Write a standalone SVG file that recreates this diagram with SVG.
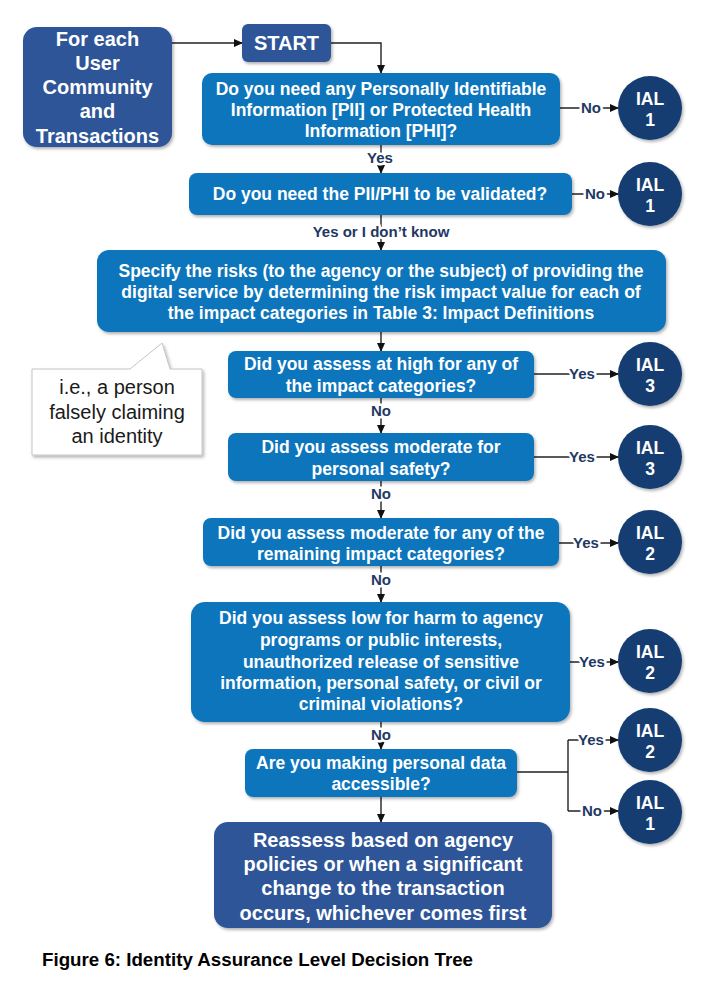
<svg xmlns="http://www.w3.org/2000/svg" width="719" height="981" viewBox="0 0 719 981">
<defs>
<style>
.dark{fill:#2F5597;}
.q{fill:#0E74BC;}
.ial{fill:#123D72;}
.t{font-family:"Liberation Sans",Arial,sans-serif;font-weight:bold;fill:#fff;text-anchor:middle;}
.t17{font-size:17.5px;}
.t20{font-size:20px;}
.lbl{font-family:"Liberation Sans",Arial,sans-serif;font-weight:bold;font-size:15px;fill:#1F3864;text-anchor:middle;stroke:#fff;stroke-width:5px;paint-order:stroke;stroke-linejoin:round;}
.ln{fill:none;stroke:#222;stroke-width:1.4;}
.ar{marker-end:url(#arr);}
.note{font-family:"Liberation Sans",Arial,sans-serif;font-size:20px;fill:#1a1a1a;text-anchor:middle;}
</style>
<marker id="arr" markerWidth="9" markerHeight="8" refX="8" refY="4" orient="auto" markerUnits="userSpaceOnUse">
<path d="M0,0 L9,4 L0,8 Z" fill="#111"/>
</marker>
<filter id="sh" x="-10%" y="-10%" width="130%" height="130%">
<feDropShadow dx="1.5" dy="2" stdDeviation="1.5" flood-color="#000" flood-opacity="0.3"/>
</filter>
</defs>
<rect width="719" height="981" fill="#fff"/>

<g id="connectors">
<path class="ln ar" d="M172,43 H242"/>
<path class="ln ar" d="M331,43 H381 V73"/>
<path class="ln ar" d="M381,145 V173"/>
<path class="ln ar" d="M560,108 H618"/>
<path class="ln ar" d="M572,194 H618"/>
<path class="ln ar" d="M381,215 V250"/>
<path class="ln ar" d="M381,332 V351"/>
<path class="ln ar" d="M534,374 H618"/>
<path class="ln ar" d="M381,398 V433"/>
<path class="ln ar" d="M534,457 H618"/>
<path class="ln ar" d="M381,481 V518"/>
<path class="ln ar" d="M559,543 H618"/>
<path class="ln ar" d="M381,566 V602"/>
<path class="ln ar" d="M570,662 H618"/>
<path class="ln ar" d="M381,722 V749"/>
<path class="ln" d="M517,772 H568 M568,740 V811"/>
<path class="ln ar" d="M568,740 H618"/>
<path class="ln ar" d="M568,811 H618"/>
<path class="ln ar" d="M381,797 V822"/>
<text class="lbl" x="380" y="163">Yes</text>
<text class="lbl" x="591" y="113">No</text>
<text class="lbl" x="595" y="199">No</text>
<text class="lbl" x="381" y="237">Yes or I don’t know</text>
<text class="lbl" x="582" y="379">Yes</text>
<text class="lbl" x="381" y="416">No</text>
<text class="lbl" x="582" y="462">Yes</text>
<text class="lbl" x="381" y="499">No</text>
<text class="lbl" x="586" y="548">Yes</text>
<text class="lbl" x="381" y="585">No</text>
<text class="lbl" x="592" y="667">Yes</text>
<text class="lbl" x="381" y="740">No</text>
<text class="lbl" x="591" y="745">Yes</text>
<text class="lbl" x="592" y="816">No</text>
</g>

<g id="n-community">
<rect class="dark" x="23" y="27" width="149" height="120" rx="14" filter="url(#sh)"/>
<text class="t t20" x="97.5" y="46">For each</text>
<text class="t t20" x="97.5" y="70">User</text>
<text class="t t20" x="97.5" y="94">Community</text>
<text class="t t20" x="97.5" y="118">and</text>
<text class="t t20" x="97.5" y="143">Transactions</text>
</g>

<g id="n-start">
<rect class="dark" x="242" y="24" width="89" height="38" rx="6" filter="url(#sh)"/>
<text class="t t20" x="286.5" y="50">START</text>
</g>

<g id="n-q1">
<rect class="q" x="202" y="73" width="358" height="72" rx="10" filter="url(#sh)"/>
<text class="t t17" x="381" y="95">Do you need any Personally Identifiable</text>
<text class="t t17" x="381" y="116">Information [PII] or Protected Health</text>
<text class="t t17" x="381" y="137">Information [PHI]?</text>
</g>

<g id="n-q2">
<rect class="q" x="189" y="173" width="383" height="42" rx="8" filter="url(#sh)"/>
<text class="t t17" x="380" y="200">Do you need the PII/PHI to be validated?</text>
</g>

<g id="n-q3">
<rect class="q" x="97" y="250" width="569" height="82" rx="12" filter="url(#sh)"/>
<text class="t t17" x="381" y="277">Specify the risks (to the agency or the subject) of providing the</text>
<text class="t t17" x="381" y="298">digital service by determining the risk impact value for each of</text>
<text class="t t17" x="381" y="319">the impact categories in Table 3: Impact Definitions</text>
</g>

<g id="n-note">
<path d="M32,369 H130 L162,343 L170,369 H202 V455 H32 Z" fill="#fff" stroke="#c4c4c4" stroke-width="1" filter="url(#sh)"/>
<text class="note" x="117" y="394">i.e., a person</text>
<text class="note" x="117" y="419">falsely claiming</text>
<text class="note" x="117" y="443">an identity</text>
</g>

<g id="n-q4">
<rect class="q" x="228" y="351" width="306" height="47" rx="8" filter="url(#sh)"/>
<text class="t t17" x="381" y="370">Did you assess at high for any of</text>
<text class="t t17" x="381" y="392">the impact categories?</text>
</g>

<g id="n-q5">
<rect class="q" x="228" y="433" width="306" height="48" rx="8" filter="url(#sh)"/>
<text class="t t17" x="381" y="453">Did you assess moderate for</text>
<text class="t t17" x="381" y="475">personal safety?</text>
</g>

<g id="n-q6">
<rect class="q" x="203" y="518" width="356" height="48" rx="8" filter="url(#sh)"/>
<text class="t t17" x="381" y="539">Did you assess moderate for any of the</text>
<text class="t t17" x="381" y="560">remaining impact categories?</text>
</g>

<g id="n-q7">
<rect class="q" x="191" y="602" width="379" height="120" rx="14" filter="url(#sh)"/>
<text class="t t17" x="381" y="624">Did you assess low for harm to agency</text>
<text class="t t17" x="381" y="646">programs or public interests,</text>
<text class="t t17" x="381" y="668">unauthorized release of sensitive</text>
<text class="t t17" x="381" y="689">information, personal safety, or civil or</text>
<text class="t t17" x="381" y="710">criminal violations?</text>
</g>

<g id="n-q8">
<rect class="q" x="245" y="749" width="272" height="48" rx="8" filter="url(#sh)"/>
<text class="t t17" x="381" y="769">Are you making personal data</text>
<text class="t t17" x="381" y="790">accessible?</text>
</g>

<g id="n-reassess">
<rect class="dark" x="214" y="822" width="338" height="106" rx="14" filter="url(#sh)"/>
<text class="t t20" x="383" y="847">Reassess based on agency</text>
<text class="t t20" x="383" y="871">policies or when a significant</text>
<text class="t t20" x="383" y="895">change to the transaction</text>
<text class="t t20" x="383" y="920">occurs, whichever comes first</text>
</g>

<g id="n-ial-a">
<circle class="ial" cx="650" cy="108" r="32" filter="url(#sh)"/>
<text class="t t17" x="650" y="105">IAL</text><text class="t t17" x="650" y="126">1</text>
</g>
<g id="n-ial-b">
<circle class="ial" cx="650" cy="194" r="32" filter="url(#sh)"/>
<text class="t t17" x="650" y="191">IAL</text><text class="t t17" x="650" y="212">1</text>
</g>
<g id="n-ial-c">
<circle class="ial" cx="650" cy="374" r="32" filter="url(#sh)"/>
<text class="t t17" x="650" y="371">IAL</text><text class="t t17" x="650" y="392">3</text>
</g>
<g id="n-ial-d">
<circle class="ial" cx="650" cy="457" r="32" filter="url(#sh)"/>
<text class="t t17" x="650" y="454">IAL</text><text class="t t17" x="650" y="475">3</text>
</g>
<g id="n-ial-e">
<circle class="ial" cx="650" cy="542" r="32" filter="url(#sh)"/>
<text class="t t17" x="650" y="539">IAL</text><text class="t t17" x="650" y="560">2</text>
</g>
<g id="n-ial-f">
<circle class="ial" cx="650" cy="661" r="32" filter="url(#sh)"/>
<text class="t t17" x="650" y="658">IAL</text><text class="t t17" x="650" y="679">2</text>
</g>
<g id="n-ial-g">
<circle class="ial" cx="650" cy="740" r="32" filter="url(#sh)"/>
<text class="t t17" x="650" y="737">IAL</text><text class="t t17" x="650" y="758">2</text>
</g>
<g id="n-ial-h">
<circle class="ial" cx="650" cy="812" r="32" filter="url(#sh)"/>
<text class="t t17" x="650" y="809">IAL</text><text class="t t17" x="650" y="830">1</text>
</g>

<text x="42" y="966" font-family="'Liberation Sans',Arial,sans-serif" font-weight="bold" font-size="17.5" fill="#000" textLength="431" lengthAdjust="spacingAndGlyphs">Figure 6: Identity Assurance Level Decision Tree</text>
</svg>
